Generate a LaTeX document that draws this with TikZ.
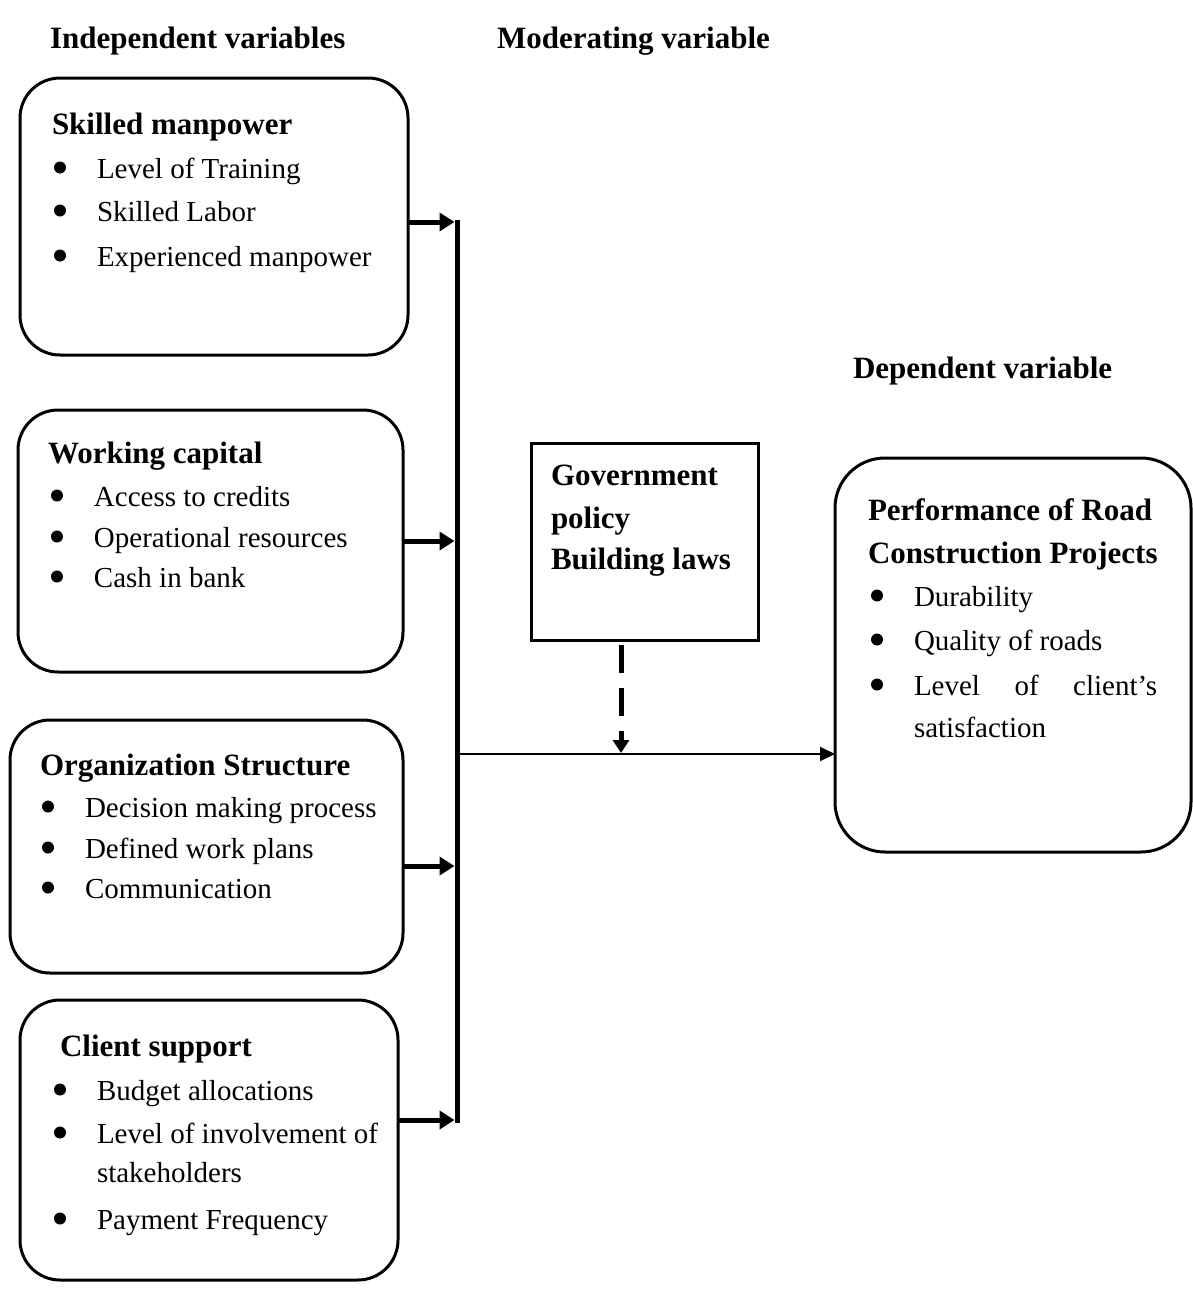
\documentclass[tikz,border=0pt]{standalone}
\usepackage{fontspec}
\setmainfont{Liberation Serif}
\usetikzlibrary{arrows.meta}
\newcommand{\bdot}{\raisebox{4.5pt}{\tikz\fill[black] (0,0) circle (6pt);}}
\newcommand{\blt}[1]{\makebox[20pt]{\bdot}\hspace{27pt}#1}
\begin{document}
\begin{tikzpicture}[x=1pt,y=-1pt,
 every node/.style={inner sep=0pt, outer sep=0pt},
 txt/.style={anchor=base west, font=\fontsize{29}{34}\selectfont},
 hd/.style={anchor=base west, font=\fontsize{31}{36}\selectfont\bfseries},
 rbox/.style={draw, line width=3pt, rounded corners=40pt},
 sbox/.style={draw, line width=3pt},
 thickarr/.style={line width=5pt, -{Triangle[length=15pt,width=18pt]}},
 bar/.style={line width=5pt},
 mainarr/.style={line width=2pt, -{Triangle[length=15pt,width=14pt]}},
 dasharr/.style={line width=5pt, dash pattern=on 28pt off 15pt, -{Triangle[length=13pt,width=16pt]}}
]
\path[fill=white] (0,0) rectangle (1193,1310);
\useasboundingbox (0,0) rectangle (1193,1310);

% headings
\node[hd] (h1) at (50,48) {Independent variables};
\node[hd] (h2) at (497,48) {Moderating variable};
\node[hd] (h3) at (853,378) {Dependent variable};

% boxes
\node[rbox, minimum width=388pt, minimum height=277pt] (b1) at (214,216.5) {};
\node[rbox, minimum width=385pt, minimum height=262pt] (b2) at (210.5,541) {};
\node[rbox, minimum width=393pt, minimum height=253pt] (b3) at (206.5,846.5) {};
\node[rbox, minimum width=378pt, minimum height=280pt] (b4) at (209,1140) {};
\node[rbox, rounded corners=50pt, minimum width=356pt, minimum height=394pt] (p) at (1013,655) {};
\node[sbox, minimum width=227pt, minimum height=197pt] (g) at (644.5,541.5) {};

% box 1
\node[hd] (t1) at (52,134) {Skilled manpower};
\node[txt] (t1a) at (50,178) {\blt{Level of Training}};
\node[txt] (t1b) at (50,221) {\blt{Skilled Labor}};
\node[txt] (t1c) at (50,266) {\blt{Experienced manpower}};

% box 2
\node[hd] (t2) at (48,463) {Working capital};
\node[txt] (t2a) at (47,506) {\blt{Access to credits}};
\node[txt] (t2b) at (47,547) {\blt{Operational resources}};
\node[txt] (t2c) at (47,587) {\blt{Cash in bank}};

% box 3
\node[hd] (t3) at (40,775) {Organization Structure};
\node[txt] (t3a) at (38,817) {\blt{Decision making process}};
\node[txt] (t3b) at (38,858) {\blt{Defined work plans}};
\node[txt] (t3c) at (38,898) {\blt{Communication}};

% box 4
\node[hd] (t4) at (60,1056) {Client support};
\node[txt] (t4a) at (50,1100) {\blt{Budget allocations}};
\node[txt] (t4b) at (50,1143) {\blt{Level of involvement of}};
\node[txt] (t4c) at (97,1182) {stakeholders};
\node[txt] (t4d) at (50,1229) {\blt{Payment Frequency}};

% government box
\node[hd] (g1) at (551,485) {Government};
\node[hd] (g2) at (551,528) {policy};
\node[hd] (g3) at (551,569) {Building laws};

% performance box
\node[hd] (p1) at (868,520) {Performance of Road};
\node[hd] (p2) at (868,563) {Construction Projects};
\node[txt] (pa) at (867,606) {\blt{Durability}};
\node[txt] (pb) at (867,650) {\blt{Quality of roads}};
\node[txt] (pc) at (867,695) {\blt{\makebox[243pt][s]{Level of client’s}}};
\node[txt] (pd) at (914,737) {satisfaction};

% bar and connectors
\coordinate (c1) at (457,222);
\coordinate (c2) at (457,541);
\coordinate (c3) at (457,866);
\coordinate (c4) at (457,1120);
\coordinate (cm) at (457,754);
\coordinate (d) at (621,754);
\draw[bar] ([yshift=2.5pt]c1) -- ([yshift=-2.5pt]c4);
\draw[thickarr] (b1.east |- c1) -- ([xshift=-2.5pt]c1);
\draw[thickarr] (b2.east |- c2) -- ([xshift=-2.5pt]c2);
\draw[thickarr] (b3.east |- c3) -- ([xshift=-2.5pt]c3);
\draw[thickarr] (b4.east |- c4) -- ([xshift=-2.5pt]c4);
\draw[mainarr] (cm) -- (p.west |- cm);
\draw[dasharr, shorten <=5pt] (g.south -| d) -- ([yshift=1pt]d);
\end{tikzpicture}
\end{document}
